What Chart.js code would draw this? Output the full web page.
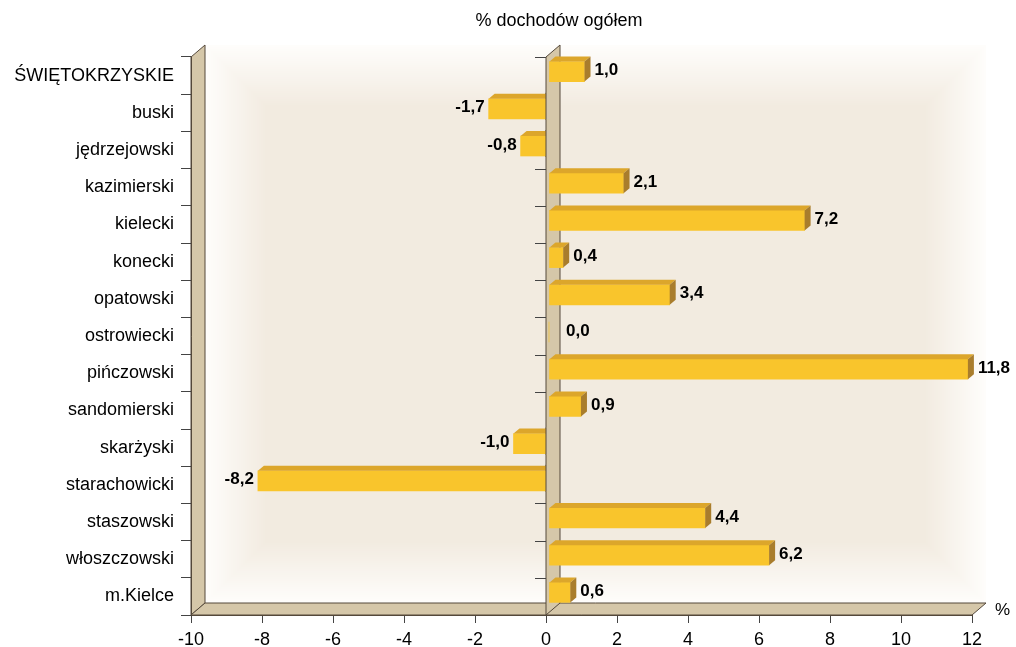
<!DOCTYPE html>
<html>
<head>
<meta charset="utf-8">
<script src="https://cdn.jsdelivr.net/npm/chart.js@4.4.1/dist/chart.umd.min.js"></script>
<style>
  html, body { margin: 0; padding: 0; background: #fff; }
</style>
</head>
<body>
<canvas id="chart" width="1016" height="647"></canvas>
<script>
// powiaty - % dochodów ogółem
const districts = ['ŚWIĘTOKRZYSKIE', 'buski', 'jędrzejowski', 'kazimierski', 'kielecki', 'konecki', 'opatowski',
    'ostrowiecki', 'pińczowski', 'sandomierski', 'skarżyski', 'starachowicki', 'staszowski', 'włoszczowski', 'm.Kielce'];
const shares = [1.0, -1.7, -0.8, 2.1, 7.2, 0.4, 3.4, 0.0, 11.8, 0.9, -1.0, -8.2, 4.4, 6.2, 0.6];
const axisMin = -10;
const axisMax = 12;
const axisStep = 2;
const chartTitle = '% dochodów ogółem';
const unitLabel = '%';

const FONT = '"Liberation Sans", Arial, sans-serif';
const TAN = '#d5c7a9';
const EDGE = '#54483a';
const DEPTH_X = 14, DEPTH_Y = 12;   // depth of walls and floor
const BAR_DX = 6, BAR_DY = 5;       // depth of the bars
const SHIFT_X = 3, SHIFT_Y = -4;    // bars sit a little inside the box

function quad(ctx, pts, fill, stroke) {
    ctx.beginPath();
    ctx.moveTo(pts[0][0], pts[0][1]);
    for (let i = 1; i < pts.length; i++) ctx.lineTo(pts[i][0], pts[i][1]);
    ctx.closePath();
    if (fill) { ctx.fillStyle = fill; ctx.fill(); }
    if (stroke) { ctx.strokeStyle = stroke; ctx.lineWidth = 1; ctx.stroke(); }
}

function mix(a, b, t) {
    const c = a.map((v, i) => Math.round(v + (b[i] - v) * t));
    return 'rgb(' + c.join(',') + ')';
}

const fmt = v => v.toFixed(1).replace('.', ',');

// walls, floor and the wall at zero
const boxPlugin = {
    id: 'box3d',
    beforeDraw(chart) {
        const { ctx, chartArea: a, scales: { x } } = chart;
        const L = a.left + DEPTH_X, T = a.top - DEPTH_Y, R = a.right + DEPTH_X, B = a.bottom - DEPTH_Y;
        ctx.save();
        const steps = 30;
        for (let k = 0; k <= steps; k++) {
            const i = k * 2;
            ctx.fillStyle = mix([254, 253, 251], [242, 235, 224], k / steps);
            ctx.fillRect(L + i, T + i, R - L - 2 * i, B - T - 2 * i);
        }
        quad(ctx, [[a.left, a.top], [L, T], [L, B], [a.left, a.bottom]], TAN, EDGE);
        quad(ctx, [[a.left, a.bottom], [L, B], [R, B], [a.right, a.bottom]], TAN, EDGE);

        const zero = x.getPixelForValue(0);
        quad(ctx, [[zero, a.top], [zero + DEPTH_X, T], [zero + DEPTH_X, B], [zero, a.bottom]], TAN, EDGE);
        const band = (a.bottom - a.top) / districts.length;
        ctx.strokeStyle = '#444';
        ctx.beginPath();
        for (let i = 0; i <= districts.length; i++) {
            const y = Math.round(a.top + i * band) + 0.5;
            ctx.moveTo(zero - 11, y);
            ctx.lineTo(zero, y);
        }
        ctx.stroke();
        ctx.restore();
    },
    beforeDatasetsDraw(chart) {
        chart.ctx.save();
        chart.ctx.translate(SHIFT_X, SHIFT_Y);
    },
    afterDatasetsDraw(chart) {
        const ctx = chart.ctx;
        const meta = chart.getDatasetMeta(0);
        meta.data.forEach((bar, i) => {
            if (shares[i] === 0) return;
            const left = Math.min(bar.x, bar.base), right = Math.max(bar.x, bar.base);
            const top = bar.y - bar.height / 2, bottom = bar.y + bar.height / 2;
            if (shares[i] > 0) {
                quad(ctx, [[left, top], [left + BAR_DX, top - BAR_DY], [right + BAR_DX, top - BAR_DY], [right, top]], '#dca62b');
                quad(ctx, [[right, top], [right + BAR_DX, top - BAR_DY], [right + BAR_DX, bottom - BAR_DY], [right, bottom]], '#a97d2c');
            } else {
                quad(ctx, [[left, top], [left + BAR_DX, top - BAR_DY], [right, top - BAR_DY], [right, top]], '#dca62b');
            }
        });
        ctx.restore();

        // negative bars end behind the zero wall
        const zero = chart.scales.x.getPixelForValue(0);
        ctx.save();
        meta.data.forEach((bar, i) => {
            if (shares[i] >= 0) return;
            const top = bar.y + SHIFT_Y - bar.height / 2 - BAR_DY - 1;
            const h = bar.height + BAR_DY + 2;
            ctx.fillStyle = TAN;
            ctx.fillRect(zero, top, SHIFT_X + 2, h);
            ctx.strokeStyle = EDGE;
            ctx.beginPath();
            ctx.moveTo(zero, top);
            ctx.lineTo(zero, top + h);
            ctx.stroke();
        });
        ctx.restore();

        ctx.save();
        ctx.font = 'bold 17px ' + FONT;
        ctx.fillStyle = '#000';
        ctx.textBaseline = 'middle';
        meta.data.forEach((bar, i) => {
            const v = shares[i];
            const y = bar.y + SHIFT_Y - 1;
            if (v < 0) {
                ctx.textAlign = 'right';
                ctx.fillText(fmt(v), Math.min(bar.x, bar.base) + SHIFT_X - 4, y);
            } else {
                ctx.textAlign = 'left';
                const xt = Math.max(bar.x + SHIFT_X + BAR_DX + 4, bar.base + DEPTH_X + 6);
                ctx.fillText(fmt(v), xt, y);
            }
        });
        ctx.restore();
    },
    afterDraw(chart) {
        const { ctx, chartArea: a } = chart;
        ctx.save();
        ctx.fillStyle = '#000';
        ctx.textBaseline = 'middle';
        ctx.textAlign = 'center';
        ctx.font = '18px ' + FONT;
        ctx.fillText(chartTitle, 559, 21);
        ctx.font = '17px ' + FONT;
        ctx.textAlign = 'left';
        ctx.fillText(unitLabel, a.right + DEPTH_X + 9, a.bottom - 5);
        ctx.restore();
    }
};

const ctx = document.getElementById('chart');

new Chart(ctx, {
    type: 'bar',
    data: {
        labels: districts,
        datasets: [{
            data: shares,
            backgroundColor: '#f9c52c',
            borderWidth: 0,
            barThickness: 20,
        }]
    },
    options: {
        indexAxis: 'y',
        responsive: false,
        devicePixelRatio: 1,
        animation: false,
        layout: { padding: { top: 57, right: 44, left: 0, bottom: 0 } },
        plugins: {
            legend: { display: false },
            tooltip: { enabled: false },
        },
        scales: {
            x: {
                min: axisMin,
                max: axisMax,
                ticks: { stepSize: axisStep, color: '#000', font: { family: FONT, size: 18 }, padding: 6 },
                grid: { drawOnChartArea: false, tickLength: 8, color: '#444' },
                border: { color: EDGE },
                afterFit: s => { s.height = 32; },
            },
            y: {
                ticks: { color: '#000', font: { family: FONT, size: 18 }, padding: 7, autoSkip: false },
                grid: { drawOnChartArea: false, tickLength: 10, color: '#444' },
                border: { color: EDGE },
                afterFit: s => { s.width = 191; },
            }
        }
    },
    plugins: [boxPlugin]
});
</script>
</body>
</html>
